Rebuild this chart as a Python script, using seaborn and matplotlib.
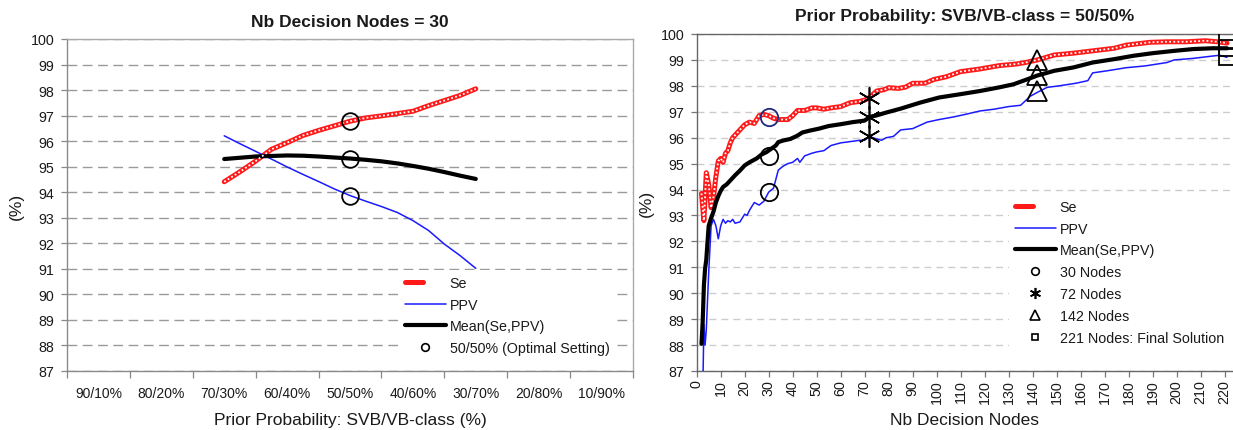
import numpy as np
import pandas as pd
import matplotlib
matplotlib.use("Agg")
import matplotlib.pyplot as plt
import seaborn as sns
from matplotlib.lines import Line2D
from matplotlib.legend_handler import HandlerTuple

# ---------------- data ----------------
categories = ["90/10%", "80/20%", "70/30%", "60/40%", "50/50%",
              "40/60%", "30/70%", "20/80%", "10/90%"]
prior_svb = [70, 67.5, 65, 62.5, 60, 57.5, 55, 52.5, 50,
             47.5, 45, 42.5, 40, 37.5, 35, 32.5, 30]
left_se = [94.41, 94.80, 95.22, 95.68, 95.94, 96.22, 96.42, 96.60, 96.78,
           96.91, 96.99, 97.08, 97.17, 97.39, 97.59, 97.79, 98.05]
left_ppv = [96.21, 95.90, 95.60, 95.30, 94.99, 94.70, 94.42, 94.13, 93.87,
            93.65, 93.44, 93.21, 92.89, 92.50, 91.97, 91.52, 91.02]
left_mean = [95.30, 95.35, 95.40, 95.42, 95.44, 95.43, 95.40, 95.36, 95.32,
             95.27, 95.21, 95.13, 95.03, 94.92, 94.79, 94.65, 94.52]
optimal_svb = 50
optimal_vals = [96.78, 95.32, 93.87]

nodes_se = [2, 3, 4, 5, 6, 7, 8, 9, 10, 11, 12, 13, 14, 15, 16, 18, 20, 22, 24,
            26, 28, 30, 32, 34, 36, 38, 40, 42, 45, 48, 50, 53, 56, 60, 64, 68,
            70, 72, 75, 78, 80, 84, 87, 90, 95, 99, 104, 110, 118, 126, 133,
            137, 142, 149, 157, 165, 174, 179, 189, 196, 204, 212, 217, 221]
right_se = [93.85, 92.8, 94.65, 94.2, 93.3, 93.7, 94.5, 95.1, 95.2, 95.05, 95.4,
            95.5, 95.8, 96.0, 96.1, 96.3, 96.5, 96.6, 96.55, 96.85, 96.9, 96.85,
            96.75, 96.7, 96.7, 96.7, 96.85, 97.05, 97.05, 97.15, 97.15, 97.1,
            97.15, 97.2, 97.35, 97.4, 97.45, 97.55, 97.8, 97.85, 97.93, 97.9,
            97.95, 98.1, 98.1, 98.25, 98.35, 98.55, 98.65, 98.78, 98.84, 98.9,
            99.0, 99.19, 99.26, 99.35, 99.45, 99.57, 99.68, 99.7, 99.7, 99.74,
            99.7, 99.65]

nodes_ppv = [2.5, 3, 3.5, 4, 5, 6, 7, 8, 9, 10, 11, 12, 13, 14, 15, 16, 18, 20,
             21, 22, 24, 26, 28, 30, 32, 33, 34, 36, 38, 40, 42, 43, 45, 48, 50,
             53, 56, 60, 64, 68, 70, 72, 75, 77, 79, 82, 85, 90, 96, 101, 107,
             112, 118, 124, 130, 135, 139, 142, 146, 151, 158, 163, 165, 171,
             179, 187, 196, 199, 207, 215, 218, 221]
right_ppv = [86.0, 88.8, 88.0, 88.6, 90.8, 92.6, 92.85, 92.6, 92.1, 92.6, 92.85,
             92.7, 92.8, 92.75, 92.85, 92.7, 92.75, 93.05, 93.0, 93.2, 93.5,
             93.4, 93.55, 93.9, 94.05, 94.4, 94.75, 94.9, 95.0, 95.05, 95.2,
             95.05, 95.3, 95.4, 95.45, 95.5, 95.7, 95.8, 95.85, 95.9, 95.9,
             96.05, 95.95, 95.9, 96.0, 96.05, 96.3, 96.35, 96.6, 96.7, 96.8,
             96.9, 97.03, 97.1, 97.2, 97.25, 97.6, 97.75, 97.94, 98.0, 98.1,
             98.2, 98.5, 98.58, 98.7, 98.77, 98.9, 99.0, 99.06, 99.15, 99.18,
             99.1]

nodes_mean = [2, 2.5, 3, 3.5, 4, 4.5, 5, 6, 7, 8, 9, 10, 11, 12.5, 14, 16, 18,
              20, 22, 25, 27, 29, 31, 33, 34, 36, 39, 42, 44, 47, 51, 55, 60,
              65, 70, 72, 75, 79, 85, 93, 101, 110, 118, 126, 132, 138, 142,
              149, 157, 165, 174, 182, 190, 199, 207, 215, 221]
right_mean = [88.05, 88.9, 90.3, 90.95, 91.3, 91.97, 92.6, 92.9, 93.15, 93.5,
              93.75, 93.95, 94.1, 94.2, 94.35, 94.55, 94.73, 94.93, 95.05, 95.2,
              95.35, 95.44, 95.57, 95.7, 95.83, 95.89, 95.95, 96.08, 96.2,
              96.27, 96.35, 96.45, 96.52, 96.6, 96.66, 96.8, 96.86, 96.97,
              97.12, 97.35, 97.55, 97.68, 97.8, 97.94, 98.06, 98.26, 98.4,
              98.58, 98.71, 98.9, 99.03, 99.16, 99.26, 99.35, 99.42, 99.45,
              99.45]

marker_nodes = [30, 72, 142, 221]
marker_labels = ["30 Nodes", "72 Nodes", "142 Nodes", "221 Nodes: Final Solution"]
marker_se = [96.8, 97.55, 99.0, 99.78]
marker_mean = [95.3, 96.8, 98.4, 99.45]
marker_ppv = [93.9, 96.05, 97.8, 99.1]

yticks = list(range(87, 101))
right_xticks = list(range(0, 221, 10))

# ---------------- style ----------------
sns.set_theme(style="white")
plt.rcParams["font.family"] = ["Liberation Sans", "DejaVu Sans"]
plt.rcParams["text.color"] = "#1a1a1a"
plt.rcParams["axes.labelcolor"] = "#1a1a1a"
plt.rcParams["xtick.color"] = "#1a1a1a"
plt.rcParams["ytick.color"] = "#1a1a1a"

RED = "#ff1a1a"
BLUE = "#1a1aff"
SE_LW = 3.6
SE_WLW = 1.3
SE_DOT = (0, (1.0, 1.3))

W, H = 1233, 431
fig = plt.figure(figsize=(W / 100, H / 100), dpi=100)
ax1 = fig.add_axes([67 / W, 1 - 372 / H, (633 - 67) / W, (372 - 40) / H])
ax2 = fig.add_axes([696.7 / W, 1 - 372 / H, (W - 696.7) / W, (372 - 35) / H])


def draw_se(ax, x, y):
    sns.lineplot(x=x, y=y, ax=ax, color=RED, lw=SE_LW, legend=False, zorder=3)
    sns.lineplot(x=x, y=y, ax=ax, color="white", lw=SE_WLW, ls=SE_DOT,
                 legend=False, zorder=3.1)


# ---------------- left chart ----------------
pos = [(90 - s) / 10 + 0.5 for s in prior_svb]
draw_se(ax1, pos, left_se)
sns.lineplot(x=pos, y=left_ppv, ax=ax1, color=BLUE, lw=1.1, legend=False, zorder=3)
sns.lineplot(x=pos, y=left_mean, ax=ax1, color="black", lw=3.0, legend=False, zorder=3)
opt_pos = (90 - optimal_svb) / 10 + 0.5
ax1.plot([opt_pos] * len(optimal_vals), optimal_vals, ls="none", marker="o",
         ms=12, mfc="none", mec="black", mew=1.3, zorder=4)

ax1.set_xlim(0, 9)
ax1.set_ylim(87, 100)
ax1.set_yticks(yticks)
ax1.set_xticks(np.arange(0, 10))
ax1.set_xticklabels([])
ax1.set_xticks(np.arange(9) + 0.5, minor=True)
ax1.set_xticklabels(categories, minor=True)
ax1.tick_params(axis="x", which="major", length=5, width=0.9, color="#888888",
                direction="out", bottom=True)
ax1.tick_params(axis="x", which="minor", length=0, pad=11, labelsize=10)
ax1.tick_params(axis="y", length=4, width=0.9, color="#888888", direction="out",
                left=True, pad=5, labelsize=10.3)
for side in ["left", "bottom"]:
    ax1.spines[side].set_color("#8a8a8a")
    ax1.spines[side].set_linewidth(1.0)
for side in ["top", "right"]:
    ax1.spines[side].set_color("#aaaaaa")
    ax1.spines[side].set_linewidth(1.0)
ax1.yaxis.grid(True, color="#9a9a9a", lw=1.0, ls=(0, (7, 4)))
ax1.xaxis.grid(False)
ax1.set_axisbelow(True)
ax1.set_title("Nb Decision Nodes = 30", fontsize=12.5, fontweight="bold", pad=9.5)
ax1.set_xlabel("Prior Probability: SVB/VB-class (%)", fontsize=12.5)
ax1.set_ylabel("(%)", fontsize=12.5)
ax1.xaxis.set_label_coords(0.5, -(413 - 372) / 332)
ax1.yaxis.set_label_coords(-(67 - 24) / 566, 0.5)

se_handle = (Line2D([], [], color=RED, lw=SE_LW),
             Line2D([], [], color="white", lw=SE_WLW, ls=SE_DOT))
ppv_handle = Line2D([], [], color=BLUE, lw=1.1)
mean_handle = Line2D([], [], color="black", lw=3.0)
opt_handle = Line2D([], [], ls="none", marker="o", ms=5.5, mfc="none",
                    mec="black", mew=1.2)
leg_kw = dict(handler_map={tuple: HandlerTuple(ndivide=None)}, loc="upper left",
              bbox_transform=fig.transFigure, frameon=True, fancybox=False,
              edgecolor="none", facecolor="white", framealpha=1, fontsize=10.3,
              handlelength=2.9, handletextpad=0.25, labelspacing=0.55,
              borderpad=0.4, borderaxespad=0)
ax1.legend([se_handle, ppv_handle, mean_handle, opt_handle],
           ["Se", "PPV", "Mean(Se,PPV)", "50/50% (Optimal Setting)"],
           bbox_to_anchor=(399 / W, 1 - 271 / H), **leg_kw)

# ---------------- right chart ----------------
draw_se(ax2, nodes_se, right_se)
sns.lineplot(x=nodes_ppv, y=right_ppv, ax=ax2, color=BLUE, lw=1.1, legend=False, zorder=3)
sns.lineplot(x=nodes_mean, y=right_mean, ax=ax2, color="black", lw=3.0, legend=False, zorder=3)

mstyles = [dict(marker="o", ms=12.5, mew=1.3),
           dict(marker=(6, 2, 0), ms=16, mew=1.2),
           dict(marker="^", ms=15, mew=1.3),
           dict(marker="s", ms=12, mew=1.3)]
for i, n in enumerate(marker_nodes):
    st = mstyles[i]
    for j, v in enumerate([marker_se[i], marker_mean[i], marker_ppv[i]]):
        col = "#1f2a80" if (i == 0 and j == 0) else "black"
        ax2.plot([n], [v], ls="none", mfc="none", mec=col, zorder=4, **st)

ax2.set_xlim(0, 223.5)
ax2.set_ylim(87, 100)
ax2.set_yticks(yticks)
ax2.set_xticks(right_xticks)
ax2.set_xticklabels([str(v) for v in right_xticks], rotation=90)
ax2.tick_params(axis="x", length=4, width=0.9, color="#777777", direction="out",
                bottom=True, pad=2, labelsize=10.3)
ax2.tick_params(axis="y", length=4, width=0.9, color="#777777", direction="out",
                left=True, pad=5, labelsize=10.3)
for side in ["left", "bottom", "top"]:
    ax2.spines[side].set_color("#666666")
    ax2.spines[side].set_linewidth(1.0)
ax2.spines["right"].set_visible(False)
ax2.yaxis.grid(True, color="#cccccc", lw=1.0, ls=(0, (5, 3.6)))
ax2.xaxis.grid(False)
ax2.set_axisbelow(True)
ax2.set_title("Prior Probability: SVB/VB-class = 50/50%", fontsize=12.5,
              fontweight="bold", pad=10)
ax2.set_xlabel("Nb Decision Nodes", fontsize=12.5)
ax2.set_ylabel("(%)", fontsize=12.5)
ax2.xaxis.set_label_coords(0.5, -(413 - 372) / 337)
ax2.yaxis.set_label_coords(-(696.7 - 654) / 536.3, 0.5)

small = [dict(marker="o", ms=5.5, mew=1.2),
         dict(marker=(6, 2, 0), ms=8, mew=1.2),
         dict(marker="^", ms=7, mew=1.2),
         dict(marker="s", ms=5, mew=1.2)]
mk_handles = [Line2D([], [], ls="none", mfc="none", mec="black", **s) for s in small]
ax2.legend([se_handle, ppv_handle, mean_handle] + mk_handles,
           ["Se", "PPV", "Mean(Se,PPV)"] + marker_labels,
           bbox_to_anchor=(1009 / W, 1 - 195 / H), **leg_kw)

fig.savefig("out.png", dpi=100)
